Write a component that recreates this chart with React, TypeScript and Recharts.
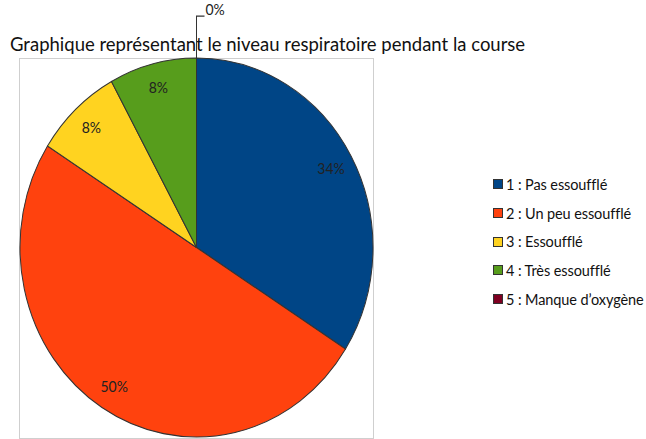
import { PieChart, Pie, Cell } from "recharts";

const categories = [
  "1 : Pas essoufflé",
  "2 : Un peu essoufflé",
  "3 : Essoufflé",
  "4 : Très essoufflé",
  "5 : Manque d’oxygène",
];
const shares = [34, 50, 8, 8, 0];
const colors = ["#004586", "#ff420e", "#ffd320", "#579d1c", "#7e0021"];
const title = "Graphique représentant le niveau respiratoire pendant la course";

const data = categories.map((name, i) => ({ name, value: shares[i] }));

const FONT = "Lato, 'Open Sans', sans-serif";
const RAD = Math.PI / 180;

function renderLabel(props: any) {
  const { cx, cy, midAngle, outerRadius, value } = props;
  if (value === 0) {
    const x0 = cx;
    const y0 = cy - outerRadius;
    const y1 = y0 - 39;
    return (
      <g>
        <polyline
          points={`${x0},${y0} ${x0},${y1} ${x0 + 8},${y1}`}
          fill="none"
          stroke="#333"
          strokeWidth={1}
        />
        <text x={x0 + 9} y={y1} dy={-1} fontSize={14} fontFamily={FONT} fill="#222" textAnchor="start">
          {`${value}%`}
        </text>
      </g>
    );
  }
  const r = outerRadius * 0.87;
  const x = cx + r * Math.cos(-midAngle * RAD);
  const y = cy + r * Math.sin(-midAngle * RAD);
  return (
    <text x={x} y={y} fontSize={14} fontFamily={FONT} fill="#222" textAnchor="middle" dominantBaseline="central">
      {`${value}%`}
    </text>
  );
}

export default function App() {
  const cx = 196.5;
  const cy = 247.5;
  return (
    <div style={{ position: "absolute", left: 0, top: 0, width: 646, height: 439, background: "#fff", overflow: "hidden", fontFamily: FONT }}>
      <div
        style={{
          position: "absolute",
          left: 19,
          top: 58,
          width: 353,
          height: 379,
          border: "1px solid #cfcfcf",
        }}
      />
      <div
        style={{
          position: "absolute",
          left: 10,
          top: 31,
          fontSize: 18.5,
          lineHeight: "26px",
          color: "#111",
          whiteSpace: "nowrap",
        }}
      >
        {title}
      </div>
      <div
        style={{
          position: "absolute",
          left: 0,
          top: 0,
          transform: "scaleY(1.0737)",
          transformOrigin: `${cx}px ${cy}px`,
        }}
      >
        <PieChart width={646} height={439} margin={{ top: 0, right: 0, bottom: 0, left: 0 }}>
          <Pie
            data={data}
            dataKey="value"
            nameKey="name"
            cx={cx}
            cy={cy}
            outerRadius={176.5}
            startAngle={90}
            endAngle={-270}
            stroke="#333"
            strokeWidth={1}
            label={renderLabel}
            labelLine={false}
            isAnimationActive={false}
          >
            {data.map((d, i) => (
              <Cell key={d.name} fill={colors[i]} />
            ))}
          </Pie>
        </PieChart>
      </div>
      <div style={{ position: "absolute", left: 493, top: 170, whiteSpace: "nowrap" }}>
        {categories.map((c, i) => (
          <div key={c} style={{ display: "flex", alignItems: "center", height: 28.7, fontSize: 14.5, color: "#111" }}>
            <span
              style={{
                display: "inline-block",
                flexShrink: 0,
                width: 8,
                height: 8,
                background: colors[i],
                border: "1px solid #333",
                marginRight: 3,
              }}
            />
            <span style={{ letterSpacing: -0.1 }}>{c}</span>
          </div>
        ))}
      </div>
    </div>
  );
}
